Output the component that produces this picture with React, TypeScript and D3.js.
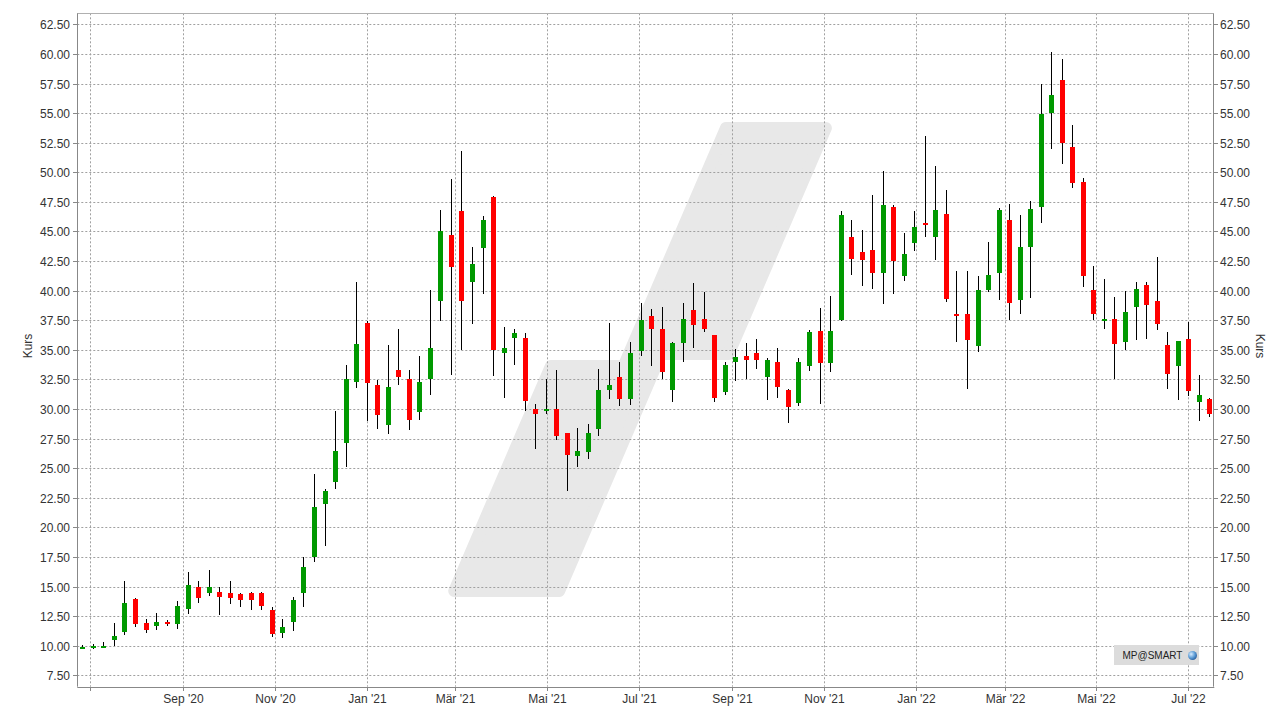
import React from "react";
import * as d3 from "d3";

// Weekly OHLC values (Kurs)
const opens = [9.75, 9.85, 9.85, 10.5, 11.2, 13.95, 11.9, 11.7, 12.0, 11.85, 13.1, 14.95, 14.45, 14.55, 14.45, 14.35, 14.5, 14.5, 13.0, 11.1, 12.0, 14.5, 17.5, 22.0, 23.85, 27.1, 32.3, 37.3, 32.0, 28.65, 33.3, 32.55, 29.75, 32.55, 39.15, 44.7, 46.7, 40.75, 43.6, 47.9, 34.75, 36.0, 36.0, 30.0, 29.85, 30.0, 27.95, 26.0, 26.4, 28.3, 31.65, 32.7, 30.85, 34.9, 37.9, 36.75, 31.65, 35.55, 38.35, 37.6, 36.25, 31.45, 33.95, 34.5, 34.75, 32.7, 33.95, 31.6, 30.5, 33.6, 36.6, 33.9, 37.55, 44.5, 43.25, 43.45, 41.5, 47.1, 41.2, 44.05, 45.7, 44.55, 46.5, 38.0, 38.0, 35.35, 40.05, 41.5, 46.0, 39.25, 43.7, 47.05, 55.05, 57.8, 52.15, 49.15, 40.05, 37.5, 37.6, 35.7, 38.65, 40.5, 39.1, 35.4, 33.65, 35.9, 30.6, 30.85];
const highs = [10.05, 10.15, 10.35, 11.95, 15.5, 14.05, 12.25, 12.75, 12.15, 13.8, 16.2, 15.5, 16.4, 15.0, 15.5, 14.45, 14.55, 14.55, 13.3, 12.3, 14.1, 17.5, 24.5, 23.25, 29.85, 33.7, 40.7, 37.45, 32.45, 35.4, 36.8, 33.3, 34.5, 40.1, 46.8, 49.45, 51.8, 43.7, 46.3, 48.0, 36.95, 36.75, 36.4, 30.4, 32.5, 33.3, 27.95, 28.4, 28.75, 33.4, 37.3, 34.0, 35.65, 38.95, 38.45, 38.6, 35.65, 39.0, 40.65, 39.9, 36.25, 33.95, 35.05, 35.55, 35.95, 34.3, 35.15, 31.7, 34.3, 36.7, 38.55, 39.55, 46.75, 46.0, 45.1, 48.1, 50.1, 47.2, 44.85, 46.75, 53.1, 50.55, 48.5, 41.65, 41.65, 41.2, 44.1, 47.0, 47.3, 46.4, 47.6, 57.45, 60.15, 59.55, 54.0, 49.5, 42.1, 41.0, 39.45, 39.95, 40.7, 40.7, 42.85, 36.5, 35.75, 37.35, 32.85, 30.95];
const lows = [9.7, 9.75, 9.8, 9.95, 10.95, 11.6, 11.05, 11.35, 11.65, 11.45, 12.7, 13.65, 14.2, 12.6, 13.5, 13.3, 13.0, 13.0, 10.75, 10.65, 11.25, 13.3, 17.05, 18.45, 23.25, 25.1, 31.8, 29.0, 28.35, 27.9, 32.0, 28.2, 29.1, 31.2, 37.4, 32.85, 35.0, 37.2, 39.75, 32.8, 30.9, 33.75, 29.85, 26.65, 29.55, 27.4, 23.1, 25.1, 25.8, 27.75, 30.85, 30.3, 30.35, 34.45, 33.6, 32.55, 30.6, 33.95, 35.15, 36.5, 30.6, 31.2, 32.35, 32.55, 33.4, 30.75, 30.95, 28.8, 30.3, 33.2, 30.45, 33.15, 37.4, 41.35, 40.4, 40.15, 38.9, 39.75, 40.8, 43.35, 44.5, 42.6, 39.05, 35.65, 31.7, 34.85, 39.85, 39.25, 37.55, 38.05, 39.4, 45.75, 52.0, 50.7, 48.7, 40.35, 37.55, 36.8, 32.55, 35.0, 35.8, 35.95, 36.7, 31.7, 30.8, 31.1, 29.0, 29.35];
const closes = [9.9, 10.0, 10.0, 10.85, 13.6, 11.85, 11.35, 12.05, 11.85, 13.4, 15.1, 14.05, 15.0, 14.15, 14.05, 13.9, 13.85, 13.4, 11.0, 11.6, 13.85, 16.7, 21.7, 23.1, 26.45, 32.55, 35.5, 32.2, 29.5, 31.85, 32.7, 29.1, 32.25, 35.2, 45.05, 42.0, 39.15, 42.25, 45.95, 35.0, 35.15, 36.45, 30.7, 29.6, 30.0, 27.75, 26.15, 26.45, 28.0, 31.6, 32.05, 30.85, 34.75, 37.5, 36.8, 33.1, 35.55, 37.6, 37.1, 36.75, 30.95, 33.7, 34.4, 34.15, 34.15, 34.15, 31.85, 30.15, 33.95, 36.5, 33.9, 36.6, 46.4, 42.7, 42.6, 41.5, 47.2, 42.5, 43.1, 45.4, 45.55, 46.85, 39.3, 37.9, 35.8, 40.05, 41.3, 46.85, 39.0, 43.7, 46.9, 54.9, 56.55, 52.5, 49.1, 41.2, 38.05, 37.65, 35.5, 38.2, 40.15, 38.75, 37.2, 33.0, 35.75, 31.55, 31.2, 29.6];

const firstWeek = new Date(Date.UTC(2020, 5, 26));
const lastWeek = new Date(Date.UTC(2022, 6, 15));
const weeks = d3.utcFriday.range(firstWeek, d3.utcDay.offset(lastWeek, 1));

const yTicks = d3.range(7.5, 62.51, 2.5);
const monthNames = ["Jan", "Feb", "Mär", "Apr", "Mai", "Jun", "Jul", "Aug", "Sep", "Okt", "Nov", "Dez"];
const yLabel = "Kurs";
const brand = "MP@SMART";

const W = 1281;
const H = 720;
const L = 77.3, R = 1213.3, T = 13.3, B = 686.7;
const FONT = "'Liberation Sans', Arial, Helvetica, sans-serif";

export default function App() {
  const x = d3
    .scaleUtc()
    .domain([d3.utcHour.offset(firstWeek, -80), d3.utcHour.offset(lastWeek, 65)])
    .range([L, R]);
  const y = d3.scaleLinear().domain([6.55, 63.43]).range([B, T]);

  const xTicks = d3.utcMonth.every(2)!.range(new Date(Date.UTC(2020, 6, 1)), new Date(Date.UTC(2022, 7, 1)));
  const fmtY = d3.format(".2f");
  const fmtX = (d: Date) => `${monthNames[d.getUTCMonth()]} '${String(d.getUTCFullYear()).slice(2)}`;

  const candles = weeks.slice(0, opens.length).map((d, i) => ({
    date: d,
    o: opens[i],
    h: highs[i],
    l: lows[i],
    c: closes[i],
  }));

  // watermark logo (gray slanted strokes)
  const wm: [number, number][] = [
    [454.2, 591], [550.9, 366], [623.6, 366], [725.9, 128], [825.9, 128],
    [728.7, 354], [661.1, 354], [559.2, 591],
  ];

  return (
    <svg
      width={W}
      height={H}
      style={{ position: "absolute", left: 0, top: 0, background: "#fff" }}
      fontFamily={FONT}
    >
      <rect x={0} y={0} width={W} height={H} fill="#fff" />
      <polygon
        points={wm.map((p) => p.join(",")).join(" ")}
        fill="#e8e8e8"
        stroke="#e8e8e8"
        strokeWidth={12}
        strokeLinejoin="round"
      />
      {/* grid */}
      <g stroke="#a0a0a0" strokeWidth={1} strokeDasharray="2,2">
        {yTicks.map((t) => (
          <line key={"gy" + t} x1={L} x2={R} y1={Math.round(y(t)) + 0.5} y2={Math.round(y(t)) + 0.5} />
        ))}
        {xTicks.map((t) => (
          <line key={"gx" + t.getTime()} y1={T} y2={B} x1={Math.round(x(t)) + 0.5} x2={Math.round(x(t)) + 0.5} />
        ))}
      </g>
      {/* candles */}
      <g>
        {candles.map((k, i) => {
          const cx = Math.round(x(k.date));
          const up = k.c >= k.o;
          const top = Math.round(y(Math.max(k.o, k.c)));
          const bot = Math.round(y(Math.min(k.o, k.c)));
          const col = up ? "#009900" : "#ff0000";
          return (
            <g key={i}>
              <line
                x1={cx + 0.5}
                x2={cx + 0.5}
                y1={Math.round(y(k.h))}
                y2={Math.round(y(k.l))}
                stroke="#000"
                strokeWidth={1}
              />
              <rect x={cx - 2} y={top} width={5} height={Math.max(2, bot - top)} fill={col} />
            </g>
          );
        })}
      </g>
      {/* frame */}
      <line x1={L} x2={R} y1={Math.round(T) + 0.5} y2={Math.round(T) + 0.5} stroke="#b0b0b0" />
      <line x1={Math.round(L) + 0.5} x2={Math.round(L) + 0.5} y1={T} y2={B} stroke="#888" />
      <line x1={Math.round(R) + 0.5} x2={Math.round(R) + 0.5} y1={T} y2={B} stroke="#888" />
      <line x1={L} x2={R + 1} y1={Math.round(B) + 0.5} y2={Math.round(B) + 0.5} stroke="#888" />
      {/* y axes */}
      <g fontSize={12} fill="#333">
        {yTicks.map((t) => {
          const yy = Math.round(y(t)) + 0.5;
          return (
            <g key={"ty" + t}>
              <line x1={Math.round(L) - 4} x2={Math.round(L)} y1={yy} y2={yy} stroke="#888" />
              <line x1={Math.round(R) + 1} x2={Math.round(R) + 5} y1={yy} y2={yy} stroke="#888" />
              <text x={70} y={yy} dy="0.35em" textAnchor="end">{fmtY(t)}</text>
              <text x={1220} y={yy} dy="0.35em" textAnchor="start">{fmtY(t)}</text>
            </g>
          );
        })}
        <text transform="translate(32,346) rotate(-90)" textAnchor="middle">{yLabel}</text>
        <text transform="translate(1256,346) rotate(90)" textAnchor="middle">{yLabel}</text>
      </g>
      {/* x axis */}
      <g fontSize={12} fill="#333">
        {xTicks.map((t, i) => {
          const xx = Math.round(x(t)) + 0.5;
          return (
            <g key={"tx" + t.getTime()}>
              <line x1={xx} x2={xx} y1={Math.round(B) + 1} y2={Math.round(B) + 4} stroke="#888" />
              {i > 0 && (
                <text x={xx} y={703} textAnchor="middle">{fmtX(t)}</text>
              )}
            </g>
          );
        })}
      </g>
      {/* brand box */}
      <rect x={1114} y={645} width={85} height={20} fill="#dcdcdc" />
      <text x={1122.5} y={659} fontSize={10} fill="#222">{brand}</text>
      <defs>
        <radialGradient id="globe" cx="35%" cy="35%" r="70%">
          <stop offset="0%" stopColor="#d8ecff" />
          <stop offset="60%" stopColor="#5b9bd5" />
          <stop offset="100%" stopColor="#2b5f9e" />
        </radialGradient>
      </defs>
      <circle cx={1192.5} cy={655.5} r={4.5} fill="url(#globe)" />
    </svg>
  );
}
